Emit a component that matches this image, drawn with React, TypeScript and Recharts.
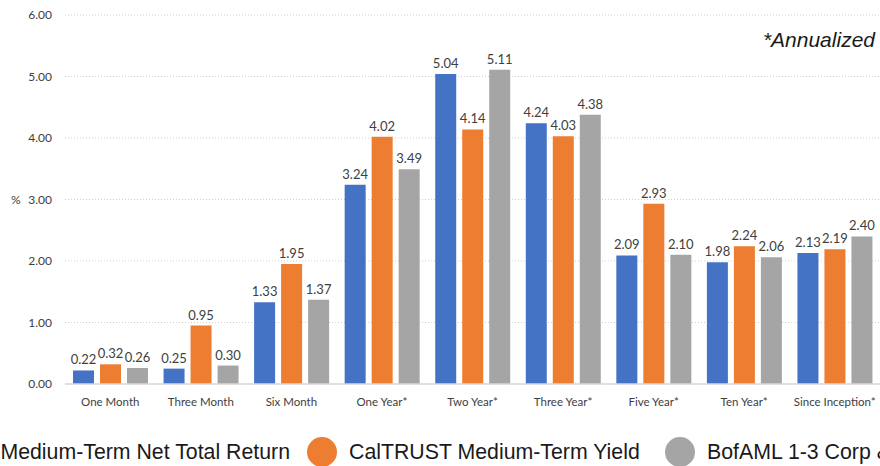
import React from 'react';
import { BarChart, Bar, XAxis, YAxis, CartesianGrid, LabelList } from 'recharts';

// Periods shown on the x-axis
const periods = [
  'One Month',
  'Three Month',
  'Six Month',
  'One Year*',
  'Two Year*',
  'Three Year*',
  'Five Year*',
  'Ten Year*',
  'Since Inception*',
];

// Returns in %
const netTotalReturn = [0.22, 0.25, 1.33, 3.24, 5.04, 4.24, 2.09, 1.98, 2.13];
const mediumTermYield = [0.32, 0.95, 1.95, 4.02, 4.14, 4.03, 2.93, 2.24, 2.19];
const bofamlIndex = [0.26, 0.3, 1.37, 3.49, 5.11, 4.38, 2.1, 2.06, 2.4];

const yTicks = [0, 1, 2, 3, 4, 5, 6];

const seriesNames = [
  'CalTRUST Medium-Term Net Total Return',
  'CalTRUST Medium-Term Yield',
  'BofAML 1-3 Corp & Govt Index',
];
const seriesColors = ['#4472C4', '#ED7D31', '#A5A5A5'];

const data = periods.map((period, i) => ({
  period,
  net: netTotalReturn[i],
  yield: mediumTermYield[i],
  index: bofamlIndex[i],
}));

const labelStyle = { fill: '#404040', fontSize: 13, fontFamily: 'Lato, sans-serif' };
const fmt = (v: number) => v.toFixed(2);

// legend item placement (circle left edge); first item is right-aligned to its text end
const legendLayout = [
  { right: 880 - 290 },
  { left: 307 },
  { left: 665 },
];

export default function App() {
  return (
    <div
      style={{
        position: 'absolute',
        top: 0,
        left: 0,
        width: 880,
        height: 466,
        overflow: 'hidden',
        background: '#fff',
        fontFamily: '"Liberation Sans", Arial, sans-serif',
      }}
    >
      <BarChart
        width={880}
        height={420}
        data={data}
        margin={{ top: 15, right: 0, bottom: 6, left: 0 }}
        barSize={21}
        barGap={6}
      >
        <CartesianGrid vertical={false} stroke="#cfcfcf" strokeDasharray="1 2" />
        <XAxis
          dataKey="period"
          axisLine={{ stroke: '#d9d9d9', strokeWidth: 1.5 }}
          tickLine={false}
          tickSize={0}
          tickMargin={14}
          height={30}
          interval={0}
          tick={{ fill: '#404040', fontSize: 11.5, fontFamily: 'Lato, sans-serif' }}
        />
        <YAxis
          domain={[0, 6]}
          ticks={yTicks}
          tickFormatter={fmt}
          axisLine={false}
          tickLine={false}
          tickSize={0}
          tickMargin={13}
          width={65}
          tick={{ fill: '#404040', fontSize: 12, fontFamily: 'Lato, sans-serif' }}
          label={{
            value: '%',
            position: 'insideLeft',
            offset: 11,
            style: { fill: '#404040', fontSize: 12, fontFamily: 'Lato, sans-serif' },
          }}
        />
        <Bar dataKey="net" fill={seriesColors[0]} isAnimationActive={false}>
          <LabelList dataKey="net" position="top" offset={6} formatter={fmt} style={labelStyle} />
        </Bar>
        <Bar dataKey="yield" fill={seriesColors[1]} isAnimationActive={false}>
          <LabelList dataKey="yield" position="top" offset={6} formatter={fmt} style={labelStyle} />
        </Bar>
        <Bar dataKey="index" fill={seriesColors[2]} isAnimationActive={false}>
          <LabelList dataKey="index" position="top" offset={6} formatter={fmt} style={labelStyle} />
        </Bar>
      </BarChart>

      <div
        style={{
          position: 'absolute',
          right: 5,
          top: 28,
          fontSize: 21,
          fontStyle: 'italic',
          color: '#1a1a1a',
        }}
      >
        *Annualized
      </div>

      {seriesNames.map((name, i) => (
        <div
          key={name}
          style={{
            position: 'absolute',
            top: 437,
            ...legendLayout[i],
            display: 'flex',
            alignItems: 'center',
            whiteSpace: 'nowrap',
            fontSize: 21.3,
            color: '#1a1a1a',
          }}
        >
          <span
            style={{
              width: 30,
              height: 30,
              borderRadius: '50%',
              background: seriesColors[i],
              marginRight: 12,
              flex: 'none',
            }}
          />
          {name}
        </div>
      ))}
    </div>
  );
}
